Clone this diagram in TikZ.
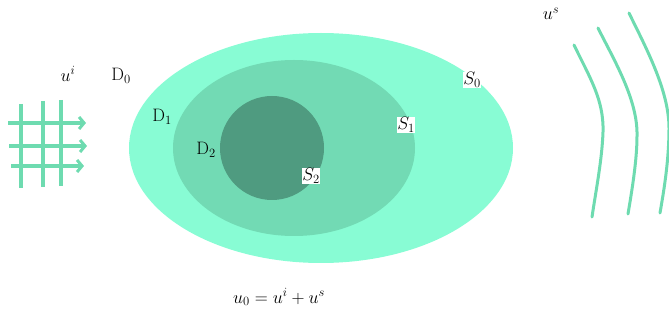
\documentclass[tikz,border=0pt]{standalone}
\usepackage{fix-cm}
\usetikzlibrary{arrows.meta}
\definecolor{dzero}{HTML}{88FCD4}
\definecolor{done}{HTML}{72DAB4}
\definecolor{dtwo}{HTML}{4F9B80}
\definecolor{wave}{HTML}{6EDBB0}
\tikzset{
  lbl/.style={font=\fontsize{18}{21}\selectfont, inner sep=1pt},
  slbl/.style={font=\fontsize{18}{21}\selectfont, fill=white, inner sep=0.5pt},
  gridline/.style={draw=wave, line width=4pt},
  gridarrow/.style={draw=wave, line width=4pt, -{Straight Barb[length=5pt,width=12pt,line width=3pt]}},
  wavefront/.style={draw=wave, line width=3pt, line cap=round}
}
\begin{document}
\begin{tikzpicture}[x=1pt,y=-1pt]
\useasboundingbox (0,0) rectangle (669,320);
% domains
\fill[dzero] (321,148) ellipse [x radius=192, y radius=115];
\fill[done] (294,148) ellipse [x radius=121, y radius=88];
\fill[dtwo] (272,148) circle [radius=52];
% labels
\node[lbl] (d0) at (121,76) {$\mathrm{D}_0$};
\node[lbl] (d1) at (162,117) {$\mathrm{D}_1$};
\node[lbl] (d2) at (206,150) {$\mathrm{D}_2$};
\node[slbl] (s0) at (472,80) {$S_0$};
\node[slbl] (s1) at (406,125) {$S_1$};
\node[slbl] (s2) at (311,176) {$S_2$};
\node[lbl] (ui) at (68,74) {$u^i$};
\node[lbl] (us) at (551,14) {$u^s$};
\node[lbl] (eq) at (279,297) {$u_0 = u^i + u^s$};
% incident grid
\coordinate (v1a) at (21,104); \coordinate (v1b) at (21,188);
\coordinate (v2a) at (43,101); \coordinate (v2b) at (43,187);
\coordinate (v3a) at (61,100); \coordinate (v3b) at (61,186);
\draw[gridline] (v1a) -- (v1b);
\draw[gridline] (v2a) -- (v2b);
\draw[gridline] (v3a) -- (v3b);
\coordinate (h1a) at (8,123); \coordinate (h1b) at (86,123);
\coordinate (h2a) at (9,146); \coordinate (h2b) at (87,146);
\coordinate (h3a) at (11,166); \coordinate (h3b) at (84,166);
\draw[gridarrow] (h1a) -- (h1b);
\draw[gridarrow] (h2a) -- (h2b);
\draw[gridarrow] (h3a) -- (h3b);
% scattered wavefronts
\coordinate (w1a) at (574,45); \coordinate (w1b) at (603,132); \coordinate (w1c) at (592,217);
\coordinate (w2a) at (598,28); \coordinate (w2b) at (637,136); \coordinate (w2c) at (628,214);
\coordinate (w3a) at (629,13); \coordinate (w3b) at (669,128); \coordinate (w3c) at (660,213);
\draw[wavefront] (w1a) .. controls (590,78) and (604,100) .. (w1b) .. controls (602,160) and (596,190) .. (w1c);
\draw[wavefront] (w2a) .. controls (614,60) and (638,100) .. (w2b) .. controls (637,160) and (632,190) .. (w2c);
\draw[wavefront] (w3a) .. controls (645,46) and (669,90) .. (w3b) .. controls (669,160) and (664,190) .. (w3c);
\end{tikzpicture}
\end{document}
